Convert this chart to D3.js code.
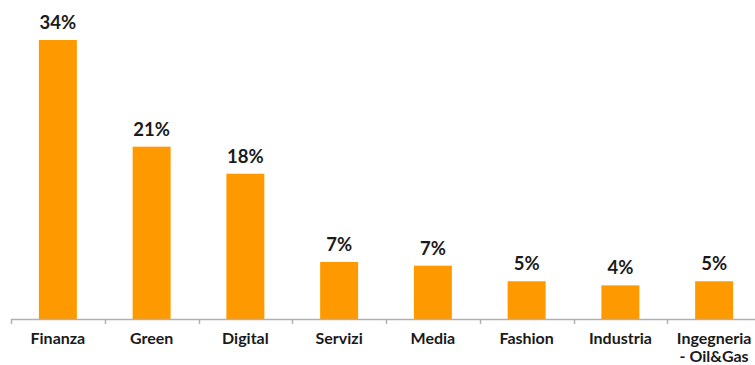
<!DOCTYPE html>
<html>
<head>
<meta charset="utf-8">
<script src="https://cdn.jsdelivr.net/npm/d3@7"></script>
<style>
  html, body { margin: 0; padding: 0; background: #ffffff; }
  svg { display: block; }
  text { font-family: Lato, "Open Sans", sans-serif; font-weight: 700; fill: #1a1a1a; }
</style>
</head>
<body>
<svg id="chart" width="755" height="365"></svg>
<script>
// Sector shares (percent)
const categories = ["Finanza", "Green", "Digital", "Servizi", "Media", "Fashion", "Industria", "Ingegneria\n- Oil&Gas"];
const shares = [34.0, 21.0, 17.7, 6.95, 6.5, 4.6, 4.1, 4.6];

const width = 755, height = 365;
const baseline = 319;
const axisLeft = 11;
const step = 93.75;

const svg = d3.select("#chart");

const x = d3.scaleBand()
  .domain(categories)
  .range([axisLeft, axisLeft + step * categories.length])
  .padding(0);

const y = d3.scaleLinear()
  .domain([0, 34])
  .range([baseline, 40]);

const barW = x.bandwidth() * 0.405;
const fmt = v => Math.round(v) + "%";

// Bars
svg.append("g")
  .selectAll("rect")
  .data(categories)
  .join("rect")
  .attr("x", (d) => x(d) + x.bandwidth() / 2 - barW / 2)
  .attr("y", (d, i) => y(shares[i]))
  .attr("width", barW)
  .attr("height", (d, i) => baseline - y(shares[i]))
  .attr("fill", "#ff9900");

// Value labels
svg.append("g")
  .selectAll("text")
  .data(categories)
  .join("text")
  .attr("x", d => x(d) + x.bandwidth() / 2)
  .attr("y", (d, i) => y(shares[i]) - 11)
  .attr("text-anchor", "middle")
  .style("font-size", "18.5px")
  .text((d, i) => fmt(shares[i]));

// Category axis: domain line with ticks at band boundaries
const axis = svg.append("g");
axis.append("line")
  .attr("x1", axisLeft).attr("x2", width)
  .attr("y1", baseline + 0.5).attr("y2", baseline + 0.5)
  .attr("stroke", "#b0b0b0").attr("stroke-width", 1.5);

const boundaries = categories.map(d => x(d)).concat([x.range()[1]]);
axis.selectAll("line.tick")
  .data(boundaries)
  .join("line")
  .attr("class", "tick")
  .attr("x1", d => Math.round(d) + 0.5).attr("x2", d => Math.round(d) + 0.5)
  .attr("y1", baseline).attr("y2", baseline + 5)
  .attr("stroke", "#b0b0b0").attr("stroke-width", 1.5);

// Category labels (multi-line where needed)
const labels = axis.selectAll("text.cat")
  .data(categories)
  .join("text")
  .attr("class", "cat")
  .attr("text-anchor", "middle")
  .attr("x", d => x(d) + x.bandwidth() / 2)
  .attr("y", 344)
  .style("font-size", "16px");

labels.each(function(d) {
  const lines = d.split("\n");
  const t = d3.select(this);
  lines.forEach((ln, k) => {
    t.append("tspan")
      .attr("x", x(d) + x.bandwidth() / 2)
      .attr("dy", k === 0 ? 0 : 17.5)
      .text(ln);
  });
});
</script>
</body>
</html>
